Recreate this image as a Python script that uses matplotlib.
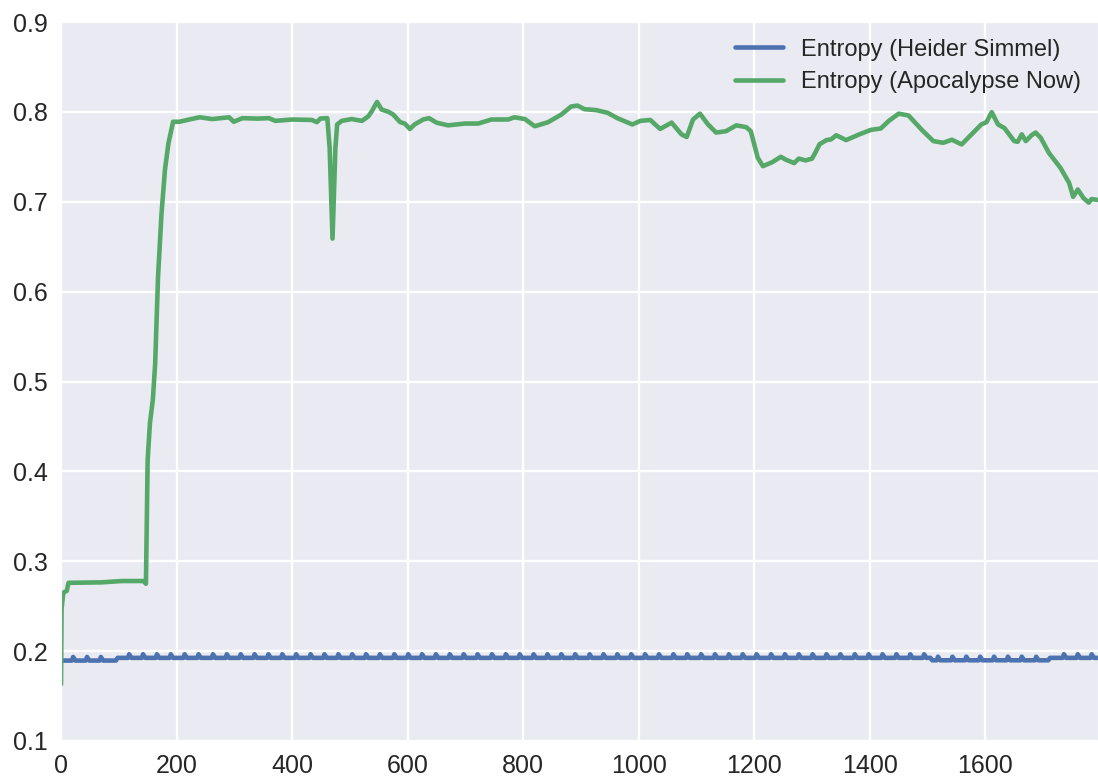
import numpy as np
import matplotlib
matplotlib.use("Agg")
import matplotlib.pyplot as plt
import seaborn as sns

# Apocalypse Now entropy
green_x = [0, 1, 4, 10, 13, 40, 70, 105, 143, 147, 150, 154, 159, 163, 168, 174, 180,
           186, 194, 205, 222, 240, 262, 291, 299, 314, 340, 360, 371, 400, 434, 443,
           449, 461, 465, 470, 475, 478, 486, 503, 521, 532, 538, 547, 555, 567, 575,
           587, 595, 604, 612, 627, 637, 650, 670, 699, 722, 745, 774, 785, 803, 820,
           843, 866, 883, 894, 906, 926, 946, 963, 989, 1003, 1020, 1037, 1057, 1074,
           1083, 1094, 1106, 1120, 1134, 1151, 1169, 1186, 1194, 1206, 1215, 1231,
           1246, 1254, 1269, 1277, 1289, 1300, 1306, 1313, 1325, 1333, 1342, 1359,
           1382, 1402, 1419, 1433, 1450, 1467, 1490, 1510, 1527, 1542, 1559, 1570,
           1593, 1602, 1611, 1622, 1633, 1650, 1656, 1663, 1670, 1680, 1687, 1696,
           1710, 1730, 1745, 1752, 1760, 1770, 1779, 1784, 1795]
green_y = [0.163, 0.247, 0.265, 0.267, 0.276, 0.2762, 0.2765, 0.278, 0.278, 0.275,
           0.413, 0.454, 0.48, 0.52, 0.617, 0.687, 0.736, 0.765, 0.789, 0.789, 0.7915,
           0.794, 0.792, 0.794, 0.789, 0.793, 0.7925, 0.793, 0.790, 0.7915, 0.791,
           0.7886, 0.7926, 0.793, 0.76, 0.659, 0.76, 0.786, 0.790, 0.792, 0.790, 0.795,
           0.8007, 0.811, 0.8026, 0.800, 0.797, 0.7886, 0.787, 0.781, 0.786, 0.7915,
           0.793, 0.788, 0.785, 0.787, 0.787, 0.7915, 0.7915, 0.794, 0.792, 0.784,
           0.7885, 0.797, 0.806, 0.807, 0.803, 0.802, 0.799, 0.793, 0.786, 0.790,
           0.791, 0.781, 0.788, 0.775, 0.772, 0.7915, 0.798, 0.786, 0.777, 0.7785,
           0.785, 0.783, 0.7785, 0.749, 0.7396, 0.744, 0.750, 0.747, 0.743, 0.748,
           0.746, 0.748, 0.755, 0.764, 0.7686, 0.7694, 0.774, 0.7686, 0.775, 0.780,
           0.7815, 0.790, 0.798, 0.796, 0.780, 0.7675, 0.7656, 0.769, 0.7638, 0.771,
           0.786, 0.7886, 0.7996, 0.786, 0.782, 0.7675, 0.7667, 0.775, 0.7675, 0.774,
           0.777, 0.771, 0.7544, 0.7377, 0.721, 0.7055, 0.7136, 0.704, 0.699, 0.703,
           0.702]

# Heider Simmel entropy: flat levels with small regular bumps
blue_break_x = [0, 95, 1505, 1709, 1795]
blue_level = [0.1895, 0.1925, 0.1898, 0.1925]
blue_spike_x = [21, 45, 69, 118, 142, 166, 190, 214, 238, 263, 287, 311, 335, 359,
                383, 407, 432, 456, 480, 504, 528, 552, 577, 601, 625, 649, 673, 697,
                721, 746, 770, 794, 818, 842, 866, 890, 915, 939, 963, 987, 1011, 1035,
                1060, 1084, 1108, 1132, 1156, 1180, 1204, 1229, 1253, 1277, 1301, 1325,
                1349, 1374, 1398, 1422, 1446, 1470, 1494, 1518, 1543, 1567, 1591, 1615,
                1639, 1663, 1688, 1736, 1760, 1784]
blue_spike_h = 0.004

xticks = [0, 200, 400, 600, 800, 1000, 1200, 1400, 1600]
yticks = [0.1, 0.2, 0.3, 0.4, 0.5, 0.6, 0.7, 0.8, 0.9]

# build blue vertices from levels and spikes
bx, by = [], []
for k in range(len(blue_level)):
    a, b = blue_break_x[k], blue_break_x[k + 1]
    lv = blue_level[k]
    bx.append(a if k == 0 else a + 3)
    by.append(lv)
    for s in blue_spike_x:
        if a + 3 < s < b - 3:
            bx += [s - 2, s, s + 4]
            by += [lv, lv + blue_spike_h, lv]
    bx.append(b)
    by.append(lv)

sns.set_style("darkgrid")
plt.rcParams['font.family'] = ['Liberation Sans', 'DejaVu Sans']

fig = plt.figure(figsize=(10.98, 7.78), dpi=100)
ax = fig.add_axes([61 / 1098, 1 - 741 / 778, 1 - 61 / 1098, (741 - 22) / 778])

ax.plot(bx, by, color="#4C72B0", lw=3.3, label="Entropy (Heider Simmel)",
        solid_joinstyle="round")
ax.plot(green_x, green_y, color="#55A868", lw=3.3, label="Entropy (Apocalypse Now)",
        solid_joinstyle="round")

ax.set_xlim(0, 1795)
ax.set_ylim(0.1, 0.9)
ax.set_xticks(xticks)
ax.set_yticks(yticks)
ax.grid(color="white", lw=1.7)
ax.tick_params(axis="both", labelsize=18, colors="#262626", pad=6)
leg = ax.legend(loc="upper right", fontsize=17, frameon=False,
                handlelength=2.0, borderaxespad=0.3, labelspacing=0.45)

fig.savefig("out.png", dpi=100)
